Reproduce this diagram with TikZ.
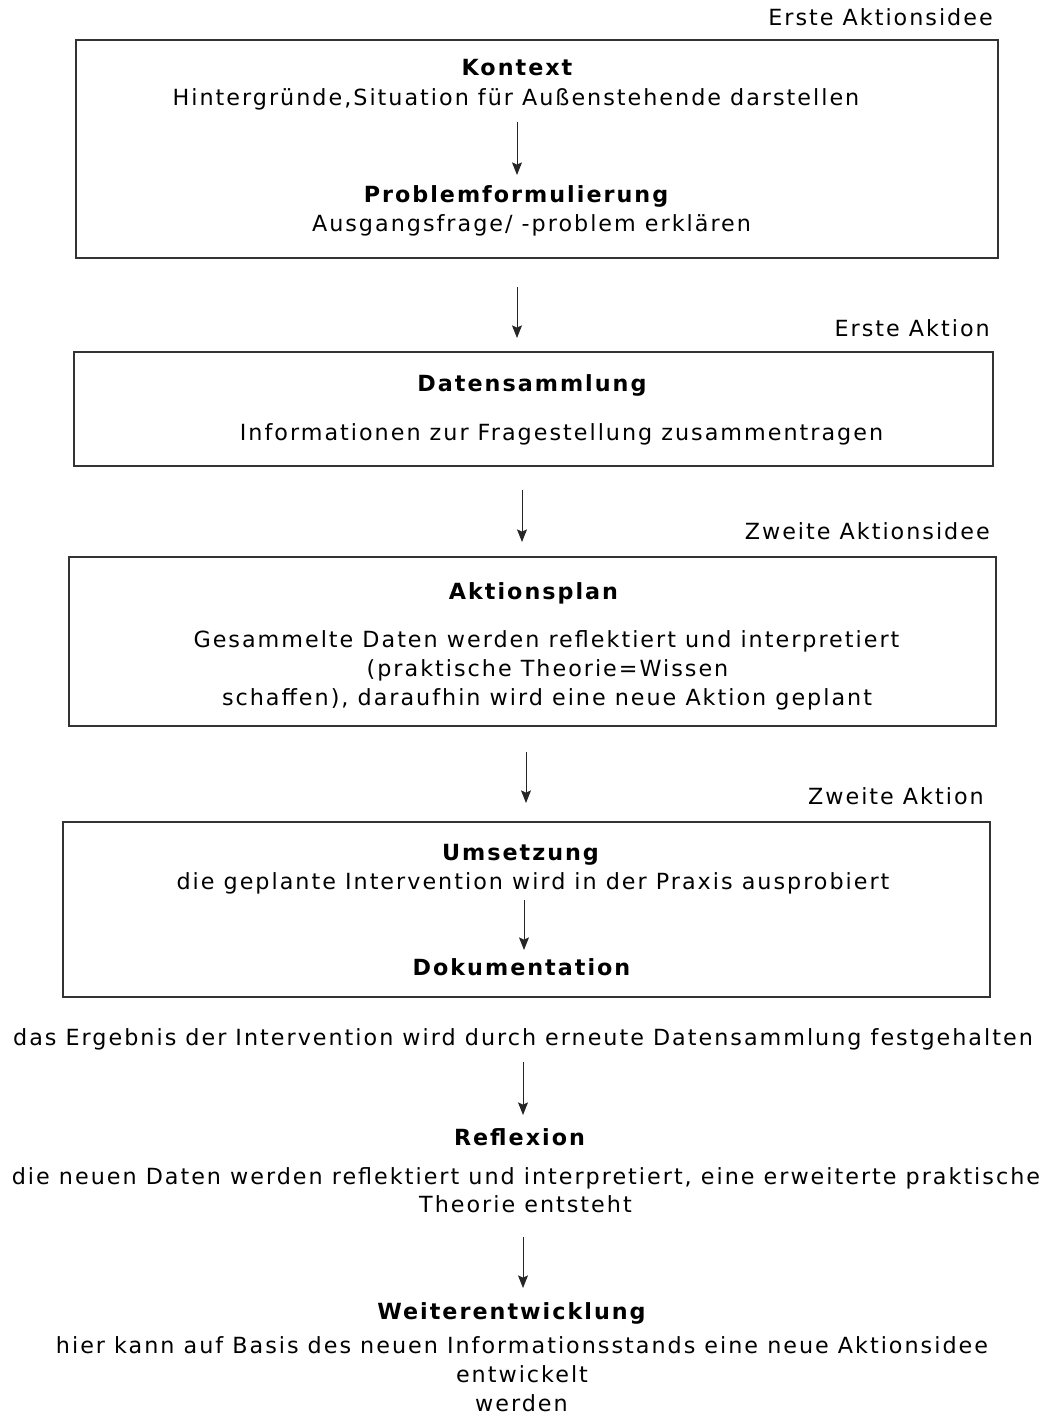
\documentclass[tikz,border=0pt]{standalone}
\usepackage{fontspec}
\setmainfont{DejaVu Sans}[LetterSpace=9]
\usetikzlibrary{arrows.meta}
\begin{document}
\begin{tikzpicture}[x=0.03cm, y=-0.03cm, every node/.style={font=\fontsize{19}{25}\selectfont, inner sep=0pt, anchor=base}]
  \tikzstyle{box}=[draw=black!80,line width=1.5pt,minimum width=27.7cm,anchor=center]
  \tikzstyle{t}=[font=\fontsize{19}{25}\selectfont\bfseries]
  \tikzstyle{tag}=[anchor=base east]
  \tikzstyle{arr}=[-{Stealth[length=3.8mm,width=3mm,inset=0.7mm]},line width=0.8pt,black!85]
  \useasboundingbox (0,0) rectangle (1042,1414);
  % boxes
  \node[box,minimum width=27.66cm,minimum height=6.54cm] (box1) at (537,149) {};
  \node[box,minimum width=27.57cm,minimum height=3.42cm] (box2) at (533.5,409) {};
  \node[box,minimum width=27.81cm,minimum height=5.07cm] (box3) at (532.5,641.5) {};
  \node[box,minimum width=27.81cm,minimum height=5.25cm] (box4) at (526.5,909.5) {};
  % labels at the right
  \node[tag] (idee1) at (993,25) {Erste Aktionsidee};
  \node[tag] (akt1) at (990,336) {Erste Aktion};
  \node[tag] (idee2) at (990,539) {Zweite Aktionsidee};
  \node[tag] (akt2) at (984,804) {Zweite Aktion};
  % box 1
  \node[t] (kontext) at (517,75) {Kontext};
  \node (hint) at (516,105) {Hintergründe,Situation für Außenstehende darstellen};
  \node[t] (problem) at (516,202) {Problemformulierung};
  \node (ausgang) at (531.5,231) {Ausgangsfrage/ -problem erklären};
  % box 2
  \node[t] (daten) at (532,391) {Datensammlung};
  \node (info) at (561.5,440) {Informationen zur Fragestellung zusammentragen};
  % box 3
  \node[t] (plan) at (533.5,599) {Aktionsplan};
  \node (plan1) at (546.5,647) {Gesammelte Daten werden reflektiert und interpretiert};
  \node (plan2) at (547.5,676) {(praktische Theorie=Wissen};
  \node (plan3) at (547,705) {schaffen), daraufhin wird eine neue Aktion geplant};
  % box 4
  \node[t] (umsetz) at (520.5,860) {Umsetzung};
  \node (geplant) at (533,889) {die geplante Intervention wird in der Praxis ausprobiert};
  \node[t] (doku) at (521.5,975) {Dokumentation};
  % below the boxes
  \node (ergebnis) at (523,1045) {das Ergebnis der Intervention wird durch erneute Datensammlung festgehalten};
  \node[t] (reflex) at (519.5,1145) {Reflexion};
  \node (neu1) at (526,1184) {die neuen Daten werden reflektiert und interpretiert, eine erweiterte praktische};
  \node (neu2) at (525.5,1212) {Theorie entsteht};
  \node[t] (weiter) at (511.5,1319) {Weiterentwicklung};
  \node (hier1) at (522,1353) {hier kann auf Basis des neuen Informationsstands eine neue Aktionsidee};
  \node (hier2) at (522,1382) {entwickelt};
  \node (hier3) at (521.5,1411) {werden};
  % arrows
  \coordinate (a1) at (517,122); \coordinate (b1) at (517,175);
  \coordinate (a2) at (517,287); \coordinate (b2) at (517,338);
  \coordinate (a3) at (522,490); \coordinate (b3) at (522,542);
  \coordinate (a4) at (526,752); \coordinate (b4) at (526,803);
  \coordinate (a5) at (524,900); \coordinate (b5) at (524,950);
  \coordinate (a6) at (523,1062); \coordinate (b6) at (523,1115);
  \coordinate (a7) at (523,1237); \coordinate (b7) at (523,1288);
  \foreach \i in {1,...,7} \draw[arr] (a\i) -- (b\i);
\end{tikzpicture}
\end{document}
